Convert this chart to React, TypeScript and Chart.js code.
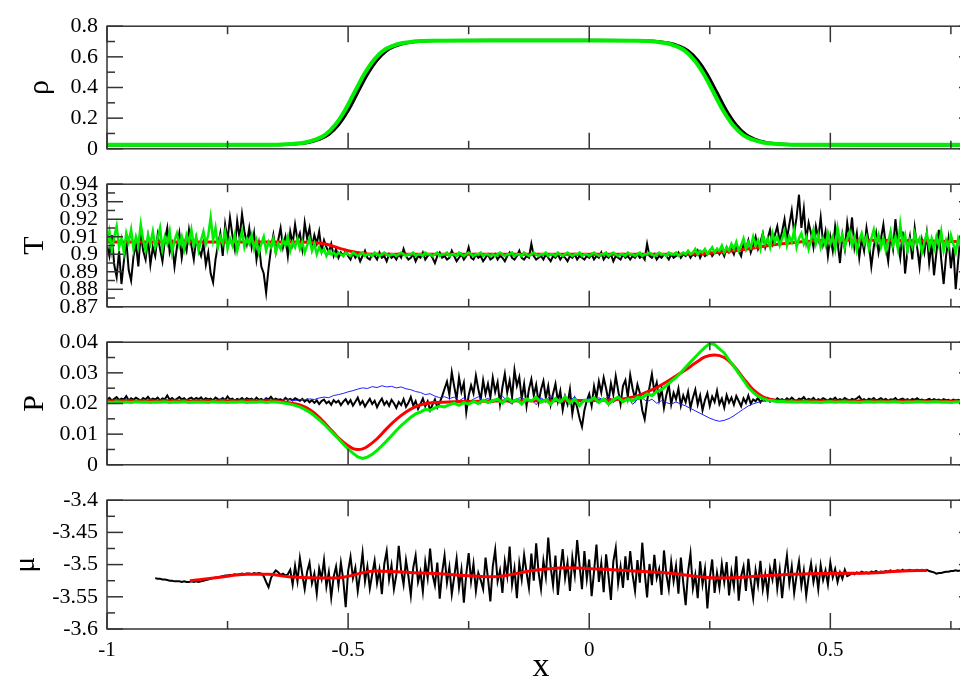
import React, { useEffect, useRef } from "react";
import { Chart, registerables } from "chart.js";
Chart.register(...registerables);

// ---------- axes ----------
const X_MIN = -1;
const X_MAX = 0.8;
const FINE_STEP = 0.005;
const COARSE_STEP = 0.01;
const X_TICKS = [-1, -0.5, 0, 0.5];
const X_MINOR = [-0.75, -0.25, 0.25, 0.75];

const RHO_TICKS = [0, 0.2, 0.4, 0.6, 0.8];
const RHO_MINOR = [0.1, 0.3, 0.5, 0.7];
const T_TICKS = [0.87, 0.88, 0.89, 0.9, 0.91, 0.92, 0.93, 0.94];
const T_MINOR = [0.875, 0.885, 0.895, 0.905, 0.915, 0.925, 0.935];
const P_TICKS = [0, 0.01, 0.02, 0.03, 0.04];
const P_MINOR = [0.005, 0.015, 0.025, 0.035];
const MU_TICKS = [-3.6, -3.55, -3.5, -3.45, -3.4];
const MU_MINOR = [-3.575, -3.525, -3.475, -3.425];

// ---------- density rho ----------
const BLACK_RHO_X = [-1, -0.8, -0.64, -0.62, -0.6, -0.58, -0.56, -0.54, -0.52, -0.5, -0.48, -0.46, -0.44, -0.42, -0.4, -0.38, -0.36, -0.34, -0.32, -0.2, 0, 0.105, 0.125, 0.145, 0.165, 0.185, 0.205, 0.225, 0.245, 0.265, 0.285, 0.305, 0.325, 0.345, 0.365, 0.385, 0.405, 0.425, 0.6, 0.8];
const BLACK_RHO = [0.025, 0.025, 0.027, 0.029, 0.034, 0.043, 0.061, 0.093, 0.155, 0.248, 0.367, 0.485, 0.578, 0.64, 0.672, 0.69, 0.699, 0.704, 0.706, 0.708, 0.708, 0.706, 0.704, 0.699, 0.69, 0.672, 0.64, 0.578, 0.485, 0.367, 0.248, 0.155, 0.093, 0.061, 0.043, 0.034, 0.029, 0.027, 0.025, 0.025];
const GREEN_RHO_X = [-1, -0.8, -0.647, -0.627, -0.607, -0.587, -0.567, -0.547, -0.527, -0.507, -0.487, -0.467, -0.447, -0.427, -0.407, -0.387, -0.367, -0.347, -0.327, -0.2, 0, 0.098, 0.118, 0.138, 0.158, 0.178, 0.198, 0.218, 0.238, 0.258, 0.278, 0.298, 0.318, 0.338, 0.358, 0.378, 0.398, 0.418, 0.6, 0.8];
const GREEN_RHO = [0.026, 0.026, 0.027, 0.029, 0.034, 0.043, 0.061, 0.093, 0.155, 0.248, 0.367, 0.485, 0.578, 0.64, 0.672, 0.69, 0.699, 0.703, 0.705, 0.706, 0.706, 0.705, 0.703, 0.699, 0.69, 0.672, 0.64, 0.578, 0.485, 0.367, 0.248, 0.155, 0.093, 0.061, 0.043, 0.034, 0.029, 0.027, 0.026, 0.026];

// ---------- temperature T (x = -1 .. 0.8, step 0.005) ----------
const BLACK_T = [
  0.905, 0.899, 0.911, 0.894, 0.887, 0.902, 0.883, 0.896, 0.908, 0.891, 0.885, 0.899, 0.906, 0.893, 0.912, 0.902, 0.897, 0.909, 0.894, 0.904,
  0.899, 0.911, 0.903, 0.896, 0.908, 0.915, 0.901, 0.906, 0.893, 0.904, 0.912, 0.898, 0.907, 0.902, 0.914, 0.905, 0.897, 0.909, 0.903, 0.899,
  0.906, 0.894, 0.901, 0.889, 0.884, 0.897, 0.905, 0.912, 0.899, 0.917, 0.908, 0.921, 0.911, 0.903, 0.919, 0.909, 0.923, 0.913, 0.906, 0.915,
  0.904, 0.912, 0.897, 0.906, 0.893, 0.889, 0.878, 0.892, 0.903, 0.911, 0.901, 0.908, 0.915, 0.904, 0.91, 0.899, 0.913, 0.906, 0.917, 0.908,
  0.912, 0.903, 0.918, 0.909, 0.915, 0.904, 0.911, 0.906, 0.913, 0.902, 0.908, 0.904, 0.901, 0.906, 0.899, 0.903, 0.898, 0.901, 0.899, 0.902,
  0.899, 0.897, 0.901, 0.898, 0.9, 0.896, 0.899, 0.902, 0.898, 0.897, 0.9, 0.899, 0.897, 0.901, 0.898, 0.899, 0.896, 0.9, 0.898, 0.899,
  0.897, 0.9, 0.898, 0.903, 0.899, 0.897, 0.898, 0.9, 0.896, 0.899, 0.898, 0.901, 0.897, 0.899, 0.9, 0.898, 0.895, 0.899, 0.901, 0.898,
  0.899, 0.897, 0.898, 0.902, 0.899, 0.896, 0.898, 0.9, 0.897, 0.899, 0.904, 0.898, 0.897, 0.9, 0.898, 0.899, 0.896, 0.898, 0.9, 0.897,
  0.898, 0.9, 0.897, 0.899, 0.898, 0.896, 0.899, 0.901, 0.898, 0.897, 0.899, 0.902, 0.898, 0.897, 0.899, 0.898, 0.906, 0.899, 0.897, 0.898,
  0.899, 0.897, 0.9, 0.898, 0.896, 0.899, 0.898, 0.9, 0.897, 0.899, 0.898, 0.896, 0.899, 0.898, 0.9, 0.897, 0.899, 0.898, 0.897, 0.899,
  0.898, 0.9, 0.897, 0.899, 0.898, 0.901, 0.897, 0.899, 0.898, 0.9, 0.896, 0.899, 0.898, 0.897, 0.9, 0.898, 0.899, 0.897, 0.899, 0.898,
  0.9, 0.898, 0.899, 0.897, 0.906, 0.899, 0.898, 0.9, 0.897, 0.899, 0.898, 0.9, 0.899, 0.897, 0.9, 0.898, 0.899, 0.901, 0.898, 0.9,
  0.899, 0.901, 0.898, 0.9, 0.899, 0.902, 0.898, 0.901, 0.899, 0.9, 0.902, 0.899, 0.901, 0.903, 0.9, 0.902, 0.899, 0.904, 0.901, 0.903,
  0.9, 0.905, 0.902, 0.899, 0.906, 0.903, 0.908, 0.901, 0.905, 0.91, 0.903, 0.907, 0.912, 0.904, 0.909, 0.914, 0.906, 0.911, 0.916, 0.907,
  0.913, 0.92, 0.909, 0.917, 0.925, 0.912, 0.921, 0.934, 0.915, 0.926, 0.908, 0.918, 0.912, 0.904, 0.916, 0.909, 0.921, 0.906, 0.913, 0.899,
  0.91, 0.902, 0.916, 0.907, 0.895, 0.911, 0.903, 0.918, 0.908, 0.921, 0.904, 0.912, 0.898, 0.909, 0.902, 0.915, 0.906, 0.893, 0.904, 0.912,
  0.901, 0.909, 0.917, 0.905, 0.896, 0.911, 0.903, 0.92, 0.907, 0.898, 0.913, 0.889, 0.902, 0.91, 0.897, 0.915, 0.904, 0.893, 0.908, 0.901,
  0.912, 0.895, 0.906, 0.888, 0.901, 0.914, 0.897, 0.883, 0.899, 0.909, 0.892, 0.904, 0.88, 0.896, 0.911, 0.89, 0.902, 0.886, 0.898, 0.906,
  0.899,
];
const GREEN_T = [
  0.906, 0.913, 0.902, 0.91, 0.916, 0.904, 0.909, 0.901, 0.912, 0.907, 0.914, 0.903, 0.91, 0.905, 0.917, 0.908, 0.902, 0.911, 0.906, 0.913,
  0.904, 0.909, 0.915, 0.903, 0.91, 0.906, 0.913, 0.901, 0.908, 0.912, 0.905, 0.91, 0.903, 0.911, 0.907, 0.914, 0.905, 0.91, 0.902, 0.908,
  0.913, 0.906, 0.911, 0.921, 0.908, 0.915, 0.904, 0.91, 0.906, 0.913, 0.903, 0.909, 0.905, 0.911, 0.902, 0.908, 0.913, 0.904, 0.909, 0.906,
  0.911, 0.903, 0.908, 0.901, 0.906, 0.91, 0.902, 0.907, 0.904, 0.909, 0.901, 0.906, 0.903, 0.908, 0.905, 0.91, 0.902, 0.907, 0.904, 0.909,
  0.903, 0.907, 0.901, 0.905, 0.909, 0.902, 0.906, 0.9, 0.904, 0.901, 0.903, 0.899, 0.902, 0.9, 0.901, 0.899, 0.901, 0.9, 0.899, 0.901,
  0.9, 0.899, 0.901, 0.9, 0.899, 0.9, 0.901, 0.899, 0.9, 0.9, 0.899, 0.901, 0.9, 0.899, 0.9, 0.901, 0.9, 0.899, 0.9, 0.9,
  0.899, 0.9, 0.901, 0.9, 0.899, 0.9, 0.9, 0.901, 0.899, 0.9, 0.9, 0.899, 0.901, 0.9, 0.9, 0.899, 0.9, 0.901, 0.899, 0.9,
  0.9, 0.901, 0.899, 0.9, 0.9, 0.899, 0.901, 0.9, 0.899, 0.9, 0.901, 0.9, 0.899, 0.9, 0.9, 0.901, 0.899, 0.9, 0.9, 0.899,
  0.9, 0.899, 0.9, 0.901, 0.9, 0.899, 0.9, 0.9, 0.901, 0.899, 0.9, 0.9, 0.899, 0.901, 0.9, 0.899, 0.9, 0.901, 0.9, 0.899,
  0.9, 0.9, 0.901, 0.899, 0.9, 0.9, 0.899, 0.901, 0.9, 0.899, 0.9, 0.901, 0.9, 0.899, 0.9, 0.9, 0.901, 0.899, 0.9, 0.9,
  0.899, 0.9, 0.901, 0.9, 0.899, 0.9, 0.9, 0.901, 0.899, 0.9, 0.901, 0.9, 0.899, 0.9, 0.9, 0.899, 0.901, 0.9, 0.9, 0.899,
  0.9, 0.901, 0.899, 0.9, 0.9, 0.901, 0.9, 0.899, 0.9, 0.901, 0.9, 0.9, 0.899, 0.901, 0.9, 0.9, 0.901, 0.899, 0.9, 0.901,
  0.9, 0.902, 0.9, 0.901, 0.903, 0.9, 0.902, 0.901, 0.903, 0.9, 0.902, 0.904, 0.901, 0.903, 0.902, 0.905, 0.901, 0.904, 0.902, 0.906,
  0.903, 0.907, 0.902, 0.905, 0.909, 0.903, 0.907, 0.904, 0.91, 0.905, 0.908, 0.903, 0.911, 0.906, 0.909, 0.904, 0.912, 0.907, 0.91, 0.905,
  0.909, 0.913, 0.905, 0.91, 0.907, 0.914, 0.904, 0.909, 0.912, 0.906, 0.91, 0.903, 0.908, 0.914, 0.906, 0.911, 0.904, 0.909, 0.905, 0.912,
  0.906, 0.91, 0.903, 0.915, 0.907, 0.911, 0.904, 0.909, 0.913, 0.905, 0.91, 0.902, 0.908, 0.912, 0.906, 0.91, 0.903, 0.909, 0.914, 0.906,
  0.911, 0.904, 0.909, 0.902, 0.907, 0.913, 0.905, 0.91, 0.903, 0.917, 0.906, 0.911, 0.902, 0.908, 0.904, 0.912, 0.906, 0.909, 0.901, 0.907,
  0.912, 0.904, 0.909, 0.903, 0.91, 0.905, 0.913, 0.902, 0.908, 0.904, 0.911, 0.906, 0.901, 0.909, 0.905, 0.912, 0.903, 0.908, 0.904, 0.91,
  0.906,
];
const RED_T_X = [-1, -0.6, -0.55, -0.5, -0.45, 0.2, 0.3, 0.4, 0.5, 0.6, 0.8];
const RED_T = [0.907, 0.907, 0.906, 0.902, 0.9, 0.9, 0.902, 0.906, 0.908, 0.908, 0.907];

// ---------- pressure P ----------
// black: x = -1 .. 0.8, step 0.005
const BLACK_P = [
  0.0212, 0.0218, 0.0209, 0.0215, 0.0221, 0.0211, 0.0216, 0.0213, 0.0224, 0.021, 0.0217, 0.0212, 0.0219, 0.0214, 0.0209, 0.0218, 0.0213, 0.0222, 0.0211, 0.0216,
  0.0213, 0.0219, 0.021, 0.0217, 0.0214, 0.0226, 0.0212, 0.0218, 0.0211, 0.0215, 0.0221, 0.0213, 0.0217, 0.021, 0.0216, 0.0219, 0.0212, 0.0218, 0.0214, 0.022,
  0.0211, 0.0217, 0.0213, 0.0216, 0.021, 0.0219, 0.0214, 0.0212, 0.0218, 0.0211, 0.0223, 0.0213, 0.0216, 0.0209, 0.0215, 0.0212, 0.0218, 0.0211, 0.0217, 0.0213,
  0.0216, 0.021, 0.0219, 0.0212, 0.0215, 0.0209, 0.0217, 0.0213, 0.0222, 0.0211, 0.0216, 0.0212, 0.0214, 0.0209, 0.0218, 0.0212, 0.0215, 0.021, 0.0217, 0.0213,
  0.0209, 0.0215, 0.0206, 0.0213, 0.0204, 0.0211, 0.0202, 0.021, 0.0198, 0.0208, 0.0213, 0.0201, 0.0207, 0.0196, 0.0211, 0.0203, 0.0209, 0.0195, 0.0206, 0.0214,
  0.0199, 0.0211, 0.0193, 0.0206, 0.0219, 0.0197, 0.0208, 0.019, 0.0203, 0.0215, 0.0198, 0.0209, 0.0188, 0.0204, 0.0216, 0.0196, 0.0207, 0.0192, 0.0212, 0.0201,
  0.0186, 0.0205, 0.0195, 0.0214, 0.0189, 0.0202, 0.0221, 0.0193, 0.0208, 0.0182, 0.0199, 0.0216, 0.0191, 0.0207, 0.0178, 0.0196, 0.0213, 0.0187, 0.0203, 0.0224,
  0.0248, 0.0271, 0.0229, 0.0302, 0.0256, 0.0214, 0.0285, 0.0238, 0.0267, 0.0172, 0.0226, 0.0259, 0.0233, 0.0291, 0.0247, 0.0212, 0.0276, 0.0231, 0.0264, 0.0219,
  0.0284, 0.0238, 0.0269, 0.0198, 0.0253, 0.0297, 0.0236, 0.0275, 0.0221, 0.0309, 0.0258, 0.0286, 0.0215, 0.0264, 0.0192, 0.0247, 0.0279, 0.0226, 0.0261, 0.0203,
  0.0245, 0.0273, 0.0218, 0.0257, 0.0196, 0.0232, 0.0264, 0.0207, 0.0241, 0.0179, 0.0223, 0.0198, 0.0246, 0.0166, 0.0214, 0.0187, 0.0152, 0.0124, 0.0178, 0.0209,
  0.0231, 0.0193, 0.0256, 0.0218, 0.0272, 0.0236, 0.0284, 0.0249, 0.0207, 0.0265, 0.0229, 0.0289, 0.0243, 0.0198, 0.0257, 0.0276, 0.0221, 0.0293, 0.0248, 0.0216,
  0.0262, 0.0234, 0.0178, 0.0149, 0.0208, 0.0253, 0.0296, 0.0239, 0.0268, 0.0212, 0.0247, 0.0186, 0.0228, 0.0261, 0.0197, 0.0235, 0.0214, 0.0249, 0.0193, 0.0226,
  0.0204, 0.0238, 0.0186, 0.0219, 0.0245, 0.0197, 0.0226, 0.0178, 0.0211, 0.0234, 0.0192, 0.0223, 0.0205, 0.0241, 0.0198, 0.0216, 0.0187, 0.0227, 0.0203, 0.0219,
  0.0196, 0.0224, 0.0208, 0.0191, 0.0217, 0.0202, 0.0226, 0.0199, 0.0213, 0.0207, 0.0219, 0.0204, 0.0215, 0.021, 0.0218, 0.0206, 0.0214, 0.0209, 0.0217, 0.0211,
  0.0214, 0.0209, 0.0217, 0.0211, 0.0219, 0.0212, 0.0208, 0.0216, 0.0213, 0.0221, 0.021, 0.0215, 0.0212, 0.0218, 0.0209, 0.0214, 0.0211, 0.0217, 0.0213, 0.0209,
  0.0216, 0.0212, 0.0219, 0.021, 0.0214, 0.0211, 0.0218, 0.0213, 0.0209, 0.0215, 0.0212, 0.0217, 0.0223, 0.0211, 0.0214, 0.0209, 0.0216, 0.0212, 0.0218, 0.021,
  0.0213, 0.0217, 0.0211, 0.0215, 0.0209, 0.0214, 0.0212, 0.0218, 0.021, 0.0213, 0.0216, 0.0211, 0.0214, 0.0209, 0.0215, 0.0212, 0.0217, 0.0211, 0.0213, 0.0209,
  0.0212, 0.0215, 0.021, 0.0214, 0.0211, 0.0213, 0.0209, 0.0214, 0.0211, 0.0212, 0.0208, 0.0213, 0.021, 0.0212, 0.0209, 0.0211, 0.0208, 0.0212, 0.021, 0.0211,
  0.0209,
];
// blue and green: x = -1 .. 0.8, step 0.01
const BLUE_P = [
  0.0212, 0.0209, 0.0213, 0.021, 0.0214, 0.0211, 0.0208, 0.0212, 0.021, 0.0213, 0.0209,
  0.0211, 0.0214, 0.0209, 0.0212, 0.021, 0.0213, 0.0211, 0.0208, 0.0212, 0.021,
  0.0213, 0.0209, 0.0211, 0.0214, 0.021, 0.0212, 0.0209, 0.0213, 0.0211, 0.0214,
  0.021, 0.0212, 0.0215, 0.0211, 0.0213, 0.021, 0.0214, 0.0212, 0.0209, 0.0213,
  0.0212, 0.0215, 0.0213, 0.0218, 0.0221, 0.0219, 0.0226, 0.0229, 0.0233, 0.0238,
  0.0242, 0.0247, 0.0251, 0.0249, 0.0255, 0.0252, 0.0258, 0.0254, 0.0256, 0.0251,
  0.0254, 0.0248, 0.0245, 0.0239, 0.0236, 0.0229, 0.0232, 0.0224, 0.0219, 0.0222,
  0.0216, 0.0221, 0.0209, 0.0218, 0.0205, 0.0214, 0.0222, 0.0208, 0.0217, 0.0203,
  0.0212, 0.0224, 0.0207, 0.0198, 0.0215, 0.0221, 0.0206, 0.0213, 0.0196, 0.0218,
  0.0209, 0.0226, 0.0212, 0.0201, 0.0217, 0.0208, 0.0223, 0.0199, 0.0211, 0.0216,
  0.0205, 0.0219, 0.0211, 0.0224, 0.0203, 0.0215, 0.0208, 0.0221, 0.0197, 0.0213,
  0.0218, 0.0206, 0.0214, 0.0201, 0.0209, 0.0203, 0.0198, 0.0205, 0.0198, 0.0192,
  0.0184, 0.0176, 0.0168, 0.016, 0.0152, 0.0146, 0.0142, 0.0145, 0.0151, 0.016,
  0.0171, 0.0182, 0.0192, 0.0199, 0.0204, 0.0207, 0.0209, 0.0211, 0.0208, 0.021,
  0.0212, 0.0209, 0.0211, 0.0208, 0.021, 0.0212, 0.0209, 0.0211, 0.021, 0.0208,
  0.0211, 0.0209, 0.0212, 0.021, 0.0208, 0.0211, 0.0209, 0.021, 0.0212, 0.0209,
  0.021, 0.0208, 0.0211, 0.0209, 0.021, 0.0212, 0.0209, 0.0208, 0.0211, 0.021,
  0.0209, 0.0211, 0.0208, 0.021, 0.0209, 0.0211, 0.021, 0.0208, 0.0209, 0.021,
];
const GREEN_P = [
  0.0205, 0.0203, 0.0206, 0.0204, 0.0205, 0.0203, 0.0206, 0.0204, 0.0205, 0.0203, 0.0205,
  0.0204, 0.0206, 0.0203, 0.0205, 0.0204, 0.0206, 0.0203, 0.0205, 0.0204, 0.0205,
  0.0203, 0.0206, 0.0204, 0.0205, 0.0203, 0.0205, 0.0204, 0.0206, 0.0203, 0.0205,
  0.0204, 0.0206, 0.0203, 0.0205, 0.0205, 0.0203, 0.0201, 0.0198, 0.0194, 0.0189,
  0.0181, 0.0172, 0.016, 0.0147, 0.0133, 0.0117, 0.0101, 0.0085, 0.0068, 0.0052,
  0.0038, 0.0026, 0.0021, 0.0025, 0.0034, 0.0047, 0.0062, 0.0078, 0.0095, 0.0112,
  0.0128, 0.0142, 0.0155, 0.0166, 0.0172, 0.0181, 0.0178, 0.0186, 0.0192, 0.0189,
  0.0196, 0.0201, 0.0194, 0.0203, 0.0198, 0.0207, 0.02, 0.0211, 0.0203, 0.0209,
  0.0214, 0.0202, 0.0218, 0.0206, 0.0213, 0.0199, 0.0215, 0.0208, 0.0221, 0.0204,
  0.0212, 0.0197, 0.0216, 0.0205, 0.0222, 0.0201, 0.0214, 0.0193, 0.0211, 0.0208,
  0.0219, 0.0203, 0.0215, 0.0198, 0.0212, 0.0221, 0.0206, 0.0214, 0.0209, 0.022,
  0.0218, 0.0231, 0.0226, 0.0239, 0.0245, 0.0258, 0.0272, 0.0285, 0.0301, 0.0318,
  0.0335, 0.0352, 0.0368, 0.0383, 0.0396, 0.0392, 0.0378, 0.0365, 0.0342, 0.0321,
  0.0298, 0.0276, 0.0253, 0.0236, 0.0224, 0.0216, 0.0211, 0.0209, 0.0206, 0.0207,
  0.0205, 0.0206, 0.0204, 0.0205, 0.0206, 0.0204, 0.0205, 0.0203, 0.0205, 0.0206,
  0.0204, 0.0205, 0.0206, 0.0204, 0.0205, 0.0203, 0.0205, 0.0206, 0.0204, 0.0205,
  0.0205, 0.0204, 0.0206, 0.0205, 0.0203, 0.0205, 0.0204, 0.0206, 0.0205, 0.0204,
  0.0205, 0.0206, 0.0204, 0.0205, 0.0203, 0.0205, 0.0206, 0.0204, 0.0205, 0.0205,
];
const RED_P_X = [-1, -0.66, -0.62, -0.6, -0.58, -0.56, -0.54, -0.52, -0.5, -0.49, -0.48, -0.47, -0.46, -0.44, -0.42, -0.4, -0.38, -0.36, -0.34, -0.32, -0.2, 0, 0.05, 0.1, 0.12, 0.14, 0.16, 0.18, 0.2, 0.22, 0.24, 0.26, 0.28, 0.3, 0.32, 0.34, 0.36, 0.38, 0.4, 0.8];
const RED_P = [0.0208, 0.0208, 0.0202, 0.0195, 0.018, 0.0155, 0.0122, 0.0088, 0.0062, 0.0053, 0.005, 0.0052, 0.006, 0.0085, 0.0118, 0.0148, 0.0172, 0.019, 0.0199, 0.0203, 0.0208, 0.021, 0.0212, 0.0225, 0.0238, 0.0252, 0.027, 0.029, 0.031, 0.0332, 0.0352, 0.0358, 0.035, 0.0322, 0.0282, 0.0245, 0.0222, 0.0212, 0.0208, 0.0207];

// ---------- chemical potential mu (black: x = -0.9 .. 0.8, step 0.005) ----------
const MU_X_START = -0.9;
const BLACK_MU = [
  -3.521, -3.522, -3.522, -3.523, -3.523, -3.524, -3.525, -3.525, -3.526, -3.526,
  -3.526, -3.527, -3.526, -3.527, -3.527, -3.526, -3.527, -3.526, -3.527, -3.526,
  -3.525, -3.524, -3.523, -3.522, -3.521, -3.52, -3.52, -3.519, -3.518, -3.517,
  -3.517, -3.516, -3.516, -3.515, -3.516, -3.515, -3.514, -3.515, -3.514, -3.514,
  -3.515, -3.513, -3.514, -3.513, -3.514, -3.518, -3.527, -3.535, -3.521, -3.514,
  -3.509, -3.512, -3.516, -3.514, -3.517, -3.515,
  -3.508, -3.531, -3.502, -3.526, -3.49, -3.515, -3.538, -3.511, -3.497, -3.529, -3.514, -3.545, -3.506, -3.522, -3.493, -3.534, -3.512, -3.551, -3.519, -3.503,
  -3.532, -3.497, -3.524, -3.566, -3.51, -3.488, -3.521, -3.505, -3.541, -3.514, -3.482, -3.526, -3.503, -3.537, -3.515, -3.494, -3.529, -3.508, -3.546, -3.499,
  -3.479, -3.523, -3.501, -3.538, -3.516, -3.471, -3.509, -3.531, -3.493, -3.518, -3.548, -3.505, -3.486, -3.527, -3.511, -3.542, -3.496, -3.521, -3.475, -3.515,
  -3.532, -3.497, -3.553, -3.512, -3.486, -3.528, -3.504, -3.546, -3.519, -3.491, -3.535, -3.508, -3.559, -3.515, -3.482, -3.526, -3.499, -3.541, -3.513, -3.524,
  -3.538, -3.489, -3.521, -3.557, -3.503, -3.477, -3.526, -3.509, -3.544, -3.495, -3.518, -3.472, -3.531, -3.506, -3.552, -3.498, -3.523, -3.485, -3.512, -3.536,
  -3.483, -3.525, -3.467, -3.512, -3.538, -3.494, -3.519, -3.458, -3.503, -3.532, -3.486, -3.547, -3.509, -3.476, -3.521, -3.497, -3.541, -3.489, -3.516, -3.462,
  -3.501, -3.538, -3.479, -3.522, -3.492, -3.549, -3.511, -3.469, -3.527, -3.498, -3.543, -3.484, -3.518, -3.555, -3.495, -3.474, -3.529, -3.503, -3.536, -3.487,
  -3.524, -3.479, -3.516, -3.541, -3.493, -3.528, -3.466, -3.512, -3.551, -3.499, -3.532, -3.485, -3.521, -3.507, -3.547, -3.478, -3.515, -3.538, -3.496, -3.526,
  -3.502, -3.545, -3.489, -3.528, -3.563, -3.511, -3.483, -3.537, -3.516, -3.552, -3.495, -3.531, -3.507, -3.568, -3.521, -3.492, -3.544, -3.513, -3.536, -3.499,
  -3.527, -3.496, -3.548, -3.511, -3.534, -3.487, -3.556, -3.518, -3.503, -3.541, -3.491, -3.526, -3.552, -3.509, -3.532, -3.494, -3.538, -3.515, -3.546, -3.506,
  -3.523, -3.491, -3.537, -3.508, -3.552, -3.514, -3.486, -3.529, -3.503, -3.544, -3.517, -3.495, -3.533, -3.509, -3.548, -3.519, -3.498, -3.527, -3.507, -3.538,
  -3.501, -3.524, -3.509, -3.531, -3.497, -3.52, -3.507, -3.527, -3.512, -3.522, -3.508, -3.518,
  -3.516, -3.513, -3.515, -3.512, -3.514, -3.511, -3.513, -3.512, -3.514, -3.511,
  -3.512, -3.51, -3.513, -3.511, -3.512, -3.51, -3.511, -3.509, -3.511, -3.51,
  -3.509, -3.51, -3.508, -3.51, -3.509, -3.508, -3.51, -3.509, -3.508, -3.509,
  -3.508, -3.509, -3.508, -3.51, -3.511, -3.512, -3.514, -3.513, -3.513, -3.512,
  -3.511, -3.511, -3.51, -3.51, -3.509, -3.51, -3.509, -3.508, -3.509, -3.508,
  -3.509, -3.508, -3.509,
];
const RED_MU_X = [-0.828, -0.77, -0.71, -0.666, -0.624, -0.527, -0.444, -0.38, -0.319, -0.2, -0.116, -0.047, 0.02, 0.093, 0.162, 0.266, 0.37, 0.475, 0.579, 0.65, 0.7];
const RED_MU = [-3.525, -3.52, -3.515, -3.515, -3.519, -3.521, -3.51, -3.512, -3.514, -3.519, -3.509, -3.505, -3.507, -3.51, -3.513, -3.521, -3.517, -3.514, -3.513, -3.51, -3.509];

// ---------- helpers ----------
const gridX = (n: number, start: number, step: number) =>
  Array.from({ length: n }, (_, i) => Math.round((start + i * step) * 10000) / 10000);
const pts = (xs: number[], ys: number[]) => ys.map((y, i) => ({ x: xs[i], y }));

const FONT = "'Liberation Serif', 'Times New Roman', serif";
const BLACK = "#000000";
const GREEN = "#00ee00";
const RED = "#ff0000";
const BLUE = "#2020ff";
const AXIS = "#333333";

const CANVAS_W = 975;
const AXIS_W = 107;
const PAD = 18;
const X_AXIS_H = 58;

type Series = { xs: number[]; ys: number[]; color: string; width: number; order: number; smooth?: boolean };
type Panel = {
  title: string; min: number; max: number; ticks: number[]; minor: number[];
  top: number; bottom: number; titlePad: number; showX: boolean; series: Series[];
};

const FINE_X = gridX(BLACK_T.length, X_MIN, FINE_STEP);
const COARSE_X = gridX(BLUE_P.length, X_MIN, COARSE_STEP);
const MU_X = gridX(BLACK_MU.length, MU_X_START, FINE_STEP);

const PANELS: Panel[] = [
  {
    title: "ρ", min: 0, max: 0.8, ticks: RHO_TICKS, minor: RHO_MINOR, top: 22, bottom: 153, titlePad: 22, showX: false,
    series: [
      { xs: BLACK_RHO_X, ys: BLACK_RHO, color: BLACK, width: 3, order: 2, smooth: true },
      { xs: GREEN_RHO_X, ys: GREEN_RHO, color: GREEN, width: 4, order: 1, smooth: true },
    ],
  },
  {
    title: "T", min: 0.87, max: 0.94, ticks: T_TICKS, minor: T_MINOR, top: 180, bottom: 311, titlePad: 17, showX: false,
    series: [
      { xs: FINE_X, ys: BLACK_T, color: BLACK, width: 2, order: 3 },
      { xs: RED_T_X, ys: RED_T, color: RED, width: 3, order: 2, smooth: true },
      { xs: FINE_X, ys: GREEN_T, color: GREEN, width: 2.5, order: 1 },
    ],
  },
  {
    title: "P", min: 0, max: 0.04, ticks: P_TICKS, minor: P_MINOR, top: 338, bottom: 469, titlePad: 17, showX: false,
    series: [
      { xs: FINE_X, ys: BLACK_P, color: BLACK, width: 2, order: 4 },
      { xs: COARSE_X, ys: BLUE_P, color: BLUE, width: 1, order: 3 },
      { xs: RED_P_X, ys: RED_P, color: RED, width: 3, order: 2, smooth: true },
      { xs: COARSE_X, ys: GREEN_P, color: GREEN, width: 3, order: 1 },
    ],
  },
  {
    title: "μ", min: -3.6, max: -3.4, ticks: MU_TICKS, minor: MU_MINOR, top: 496, bottom: 629, titlePad: 8, showX: true,
    series: [
      { xs: MU_X, ys: BLACK_MU, color: BLACK, width: 2, order: 2 },
      { xs: RED_MU_X, ys: RED_MU, color: RED, width: 3, order: 1, smooth: true },
    ],
  },
];

function PanelChart({ panel }: { panel: Panel }) {
  const ref = useRef<HTMLCanvasElement>(null);
  const canvasTop = panel.top - PAD;
  const canvasH = panel.showX
    ? PAD + (panel.bottom - panel.top) + X_AXIS_H
    : PAD * 2 + (panel.bottom - panel.top);

  useEffect(() => {
    const canvas = ref.current!;
    const frame = {
      id: "frame",
      afterDatasetsDraw(chart: any) {
        const { ctx, chartArea: a, scales } = chart;
        const xs = scales.x;
        const ys = scales.y;
        ctx.save();
        ctx.strokeStyle = AXIS;
        ctx.lineWidth = 1.5;
        const line = (x1: number, y1: number, x2: number, y2: number) => {
          ctx.beginPath();
          ctx.moveTo(x1, y1);
          ctx.lineTo(x2, y2);
          ctx.stroke();
        };
        const groups: [number[], number][] = [[X_TICKS, 16], [X_MINOR, 8]];
        for (const [vals, len] of groups) {
          for (const v of vals) {
            if (v < X_MIN || v > X_MAX) continue;
            const px = xs.getPixelForValue(v);
            line(px, a.top, px, a.top + len);
            line(px, a.bottom, px, a.bottom - len);
          }
        }
        const ygroups: [number[], number][] = [[panel.ticks, 16], [panel.minor, 8]];
        for (const [vals, len] of ygroups) {
          for (const v of vals) {
            const py = ys.getPixelForValue(v);
            line(a.left, py, a.left + len, py);
            line(a.right, py, a.right - len, py);
          }
        }
        ctx.strokeRect(a.left, a.top, a.right - a.left, a.bottom - a.top);
        ctx.restore();
      },
    };

    const chart = new Chart(canvas, {
      type: "line",
      data: {
        datasets: panel.series.map((s) => ({
          data: pts(s.xs, s.ys),
          borderColor: s.color,
          backgroundColor: s.color,
          borderWidth: s.width,
          pointRadius: 0,
          fill: false,
          order: s.order,
          tension: 0,
          cubicInterpolationMode: s.smooth ? ("monotone" as const) : ("default" as const),
        })),
      },
      options: {
        animation: false,
        responsive: false,
        devicePixelRatio: 1,
        events: [],
        layout: { padding: { left: 0, right: 0, top: PAD, bottom: panel.showX ? 0 : PAD } },
        plugins: { legend: { display: false }, tooltip: { enabled: false } },
        scales: {
          x: {
            type: "linear",
            min: X_MIN,
            max: X_MAX,
            display: panel.showX,
            grid: { display: false, drawTicks: false },
            border: { display: false },
            afterBuildTicks: (axis: any) => {
              axis.ticks = X_TICKS.map((v) => ({ value: v }));
            },
            afterFit: (axis: any) => {
              if (panel.showX) axis.height = X_AXIS_H;
            },
            ticks: {
              autoSkip: false,
              maxRotation: 0,
              padding: 9,
              color: "#000",
              font: { family: FONT, size: 21 },
              callback: (v: any) => String(v),
            },
            title: {
              display: panel.showX,
              text: "x",
              color: "#000",
              font: { family: FONT, size: 34 },
              padding: { top: 0, bottom: 0 },
            },
          },
          y: {
            type: "linear",
            min: panel.min,
            max: panel.max,
            grid: { display: false, drawTicks: false },
            border: { display: false },
            afterBuildTicks: (axis: any) => {
              axis.ticks = panel.ticks.map((v) => ({ value: v }));
            },
            afterFit: (axis: any) => {
              axis.width = AXIS_W;
            },
            ticks: {
              autoSkip: false,
              padding: 9,
              color: "#000",
              font: { family: FONT, size: 22 },
              callback: (v: any) => String(v),
            },
            title: {
              display: true,
              text: panel.title,
              color: "#000",
              font: { family: FONT, size: 30 },
              padding: { top: panel.titlePad, bottom: 0 },
            },
          },
        },
      },
      plugins: [frame],
    } as any);
    return () => chart.destroy();
  }, [panel]);

  return (
    <canvas
      ref={ref}
      width={CANVAS_W}
      height={canvasH}
      style={{ position: "absolute", left: 0, top: canvasTop, width: CANVAS_W, height: canvasH }}
    />
  );
}

export default function App() {
  useEffect(() => {
    document.body.style.margin = "0";
    document.body.style.overflow = "hidden";
    document.body.style.background = "#ffffff";
  }, []);
  return (
    <div style={{ position: "relative", width: 960, height: 681, overflow: "hidden", background: "#fff" }}>
      {PANELS.map((p, i) => (
        <PanelChart key={i} panel={p} />
      ))}
    </div>
  );
}
